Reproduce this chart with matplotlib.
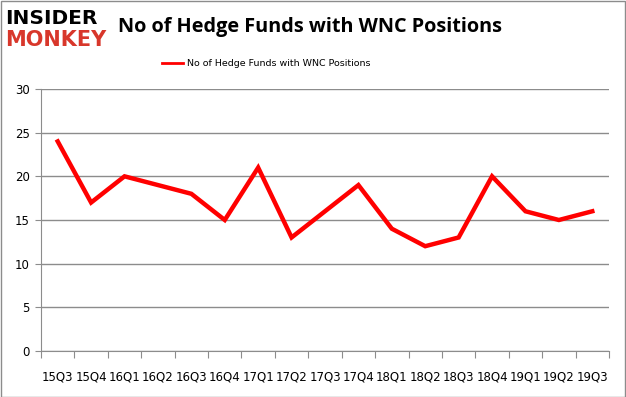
import matplotlib
matplotlib.use("Agg")
import matplotlib.pyplot as plt
from matplotlib.patches import Rectangle

quarters = ["15Q3", "15Q4", "16Q1", "16Q2", "16Q3", "16Q4", "17Q1", "17Q2", "17Q3",
            "17Q4", "18Q1", "18Q2", "18Q3", "18Q4", "19Q1", "19Q2", "19Q3"]
funds = [24, 17, 20, 19, 18, 15, 21, 13, 16, 19, 14, 12, 13, 20, 16, 15, 16]
series_name = "No of Hedge Funds with WNC Positions"

W, H = 626, 397
fig = plt.figure(figsize=(W / 100, H / 100), dpi=100)

# axes placed in pixel terms
x0, x1, y_top, y_bot = 41, 609, 89, 351
ax = fig.add_axes([x0 / W, (H - y_bot) / H, (x1 - x0) / W, (y_bot - y_top) / H])

xs = list(range(len(quarters)))
ax.plot(xs, funds, color="#ff0000", lw=3.2, solid_joinstyle="miter")

ax.set_xlim(-0.5, len(quarters) - 0.5)
ax.set_ylim(0, 30)
ax.set_yticks(range(0, 31, 5))
ax.yaxis.grid(True, color="#8c8c8c", lw=1)
ax.set_axisbelow(True)

# excel-style ticks between categories, labels centred
ax.set_xticks([i - 0.5 for i in range(len(quarters) + 1)])
ax.set_xticklabels([])
ax.set_xticks(xs, minor=True)
ax.set_xticklabels(quarters, minor=True)
ax.tick_params(axis="x", which="major", length=5, color="#8c8c8c")
ax.tick_params(axis="x", which="minor", length=0, pad=14, labelsize=8.5)
ax.tick_params(axis="y", length=4, color="#8c8c8c", labelsize=8.5, pad=4)

for s in ["top", "right"]:
    ax.spines[s].set_visible(False)
for s in ["left", "bottom"]:
    ax.spines[s].set_color("#8c8c8c")

# title and logo
fig.text(118 / W, 1 - 27 / H, "No of Hedge Funds with WNC Positions",
         fontsize=14.3, fontweight="bold", va="center", ha="left", family="Open Sans")
fig.text(5 / W, 1 - 18 / H, "INSIDER", fontsize=14.5, fontweight="heavy",
         va="center", ha="left", color="black")
fig.text(5 / W, 1 - 40 / H, "MONKEY", fontsize=15, fontweight="heavy",
         va="center", ha="left", color="#d8372b")

# legend
ly = 1 - 63 / H
fig.add_artist(plt.Line2D([162 / W, 183 / W], [ly, ly], color="#ff0000", lw=2))
fig.text(187 / W, ly, series_name, fontsize=6.8, va="center", ha="left")

# outer frame
fig.add_artist(Rectangle((0.5 / W, 0.5 / H), (W - 1.5) / W, (H - 1.5) / H,
                         transform=fig.transFigure, fill=False, ec="#8c8c8c", lw=1))

fig.savefig("out.png", dpi=100)
